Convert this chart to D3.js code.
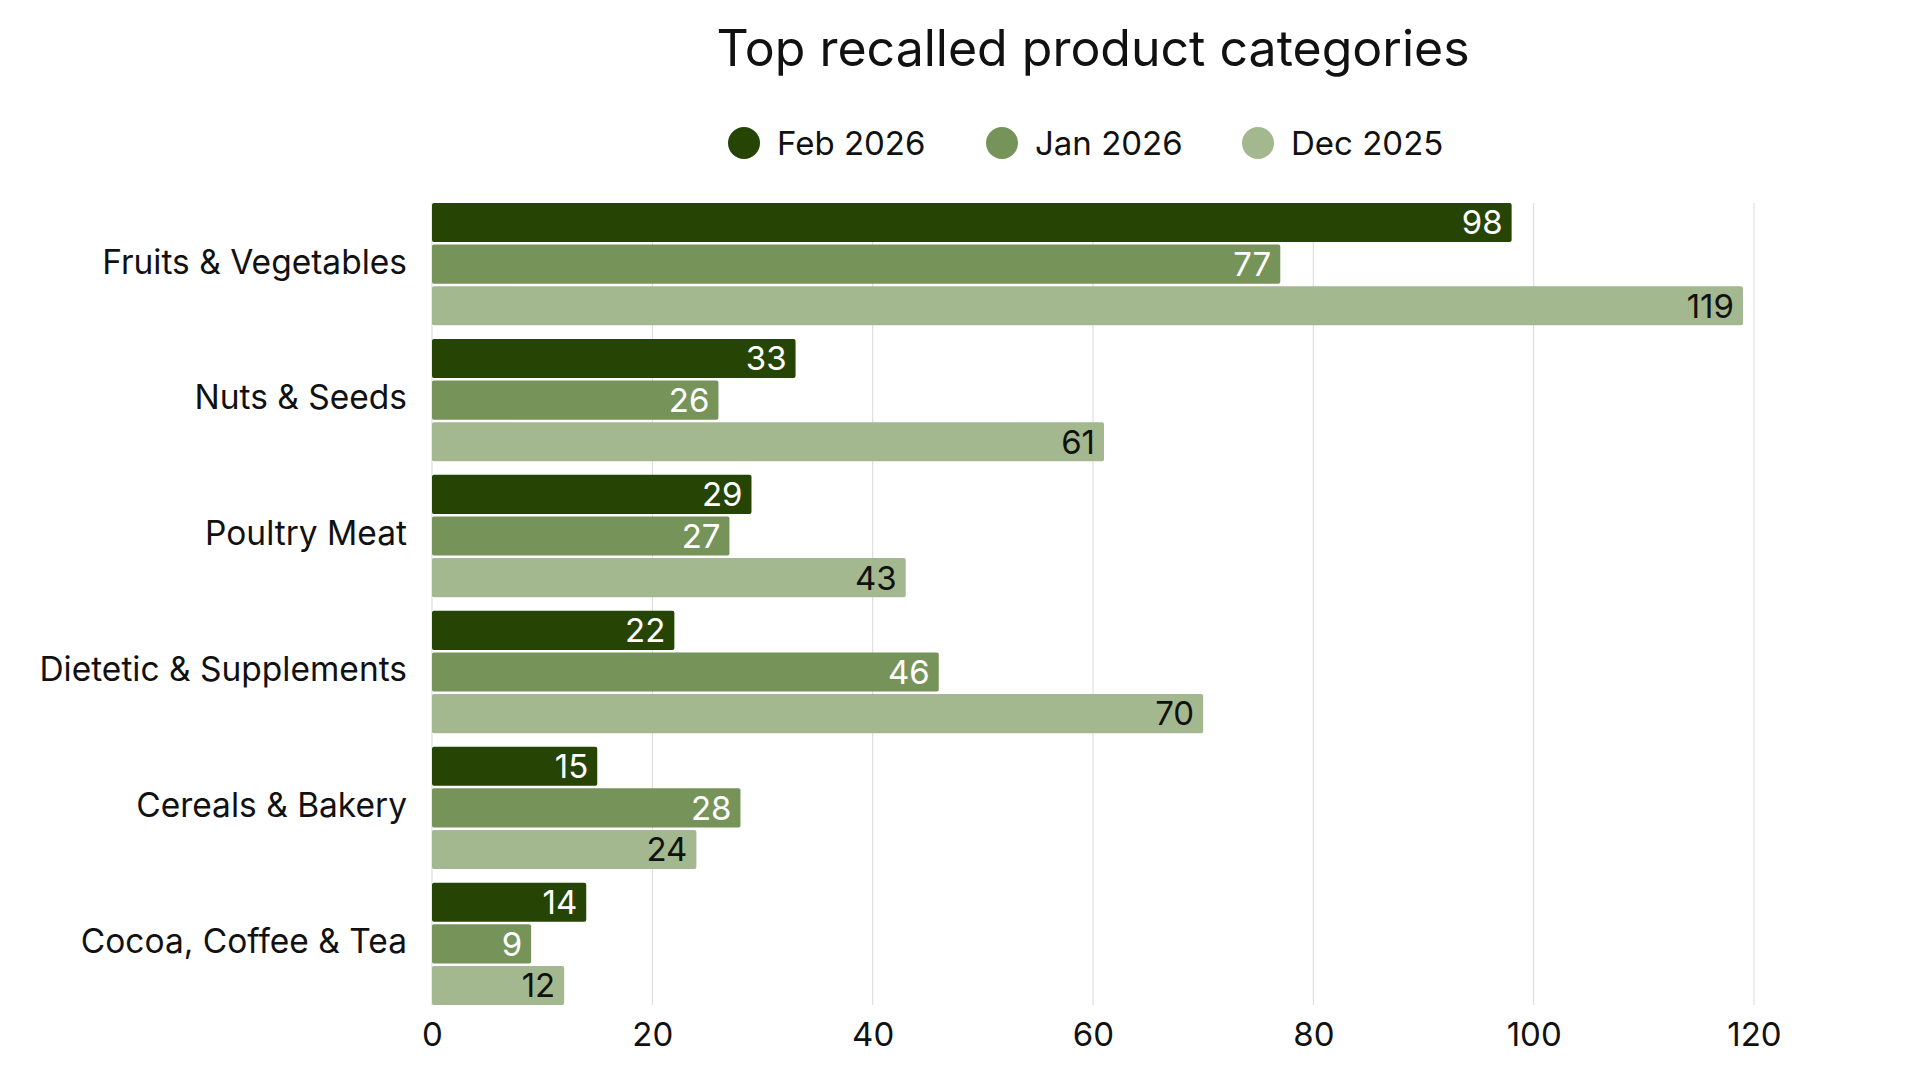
<!DOCTYPE html>
<html>
<head>
<meta charset="utf-8">
<script src="https://cdn.jsdelivr.net/npm/d3@7"></script>
<style>
  body { margin: 0; background: #fff; }
  svg { font-family: Inter, 'Noto Sans', sans-serif; }
</style>
</head>
<body>
<div id="chart"></div>
<script>
// categories and series, top to bottom
const categories = ['Fruits & Vegetables', 'Nuts & Seeds', 'Poultry Meat', 'Dietetic & Supplements', 'Cereals & Bakery', 'Cocoa, Coffee & Tea'];
const seriesNames = ['Feb 2026', 'Jan 2026', 'Dec 2025'];
const feb2026 = [98, 33, 29, 22, 15, 14];
const jan2026 = [77, 26, 27, 46, 28, 9];
const dec2025 = [119, 61, 43, 70, 24, 12];
const xTicks = [0, 20, 40, 60, 80, 100, 120];

const seriesValues = [feb2026, jan2026, dec2025];
const colors = ['#264404', '#76945a', '#a3b88f'];
const labelColors = ['#ffffff', '#ffffff', '#111111'];

const width = 1920, height = 1080;
const margin = { top: 203, right: 166, bottom: 75, left: 432 };

const svg = d3.select('#chart').append('svg')
  .attr('width', width)
  .attr('height', height);

const x = d3.scaleLinear()
  .domain([0, 120])
  .range([margin.left, width - margin.right]);

const y = d3.scaleBand()
  .domain(categories)
  .range([margin.top, height - margin.bottom])
  .paddingInner(0.1)
  .paddingOuter(0);

const ySub = d3.scaleBand()
  .domain(seriesNames)
  .range([0, y.bandwidth()])
  .paddingInner(0.06);

// title
svg.append('text')
  .attr('x', (x.range()[0] + x.range()[1]) / 2)
  .attr('y', 66)
  .attr('text-anchor', 'middle')
  .style('font-size', '50px')
  .attr('fill', '#111')
  .text('Top recalled product categories');

// legend
const legend = svg.append('g').attr('class', 'legend');
const legendX = [744, 1002, 1258];
const legendItems = legend.selectAll('.legend-item')
  .data(seriesNames)
  .join('g')
  .attr('class', 'legend-item')
  .attr('transform', (d, i) => `translate(${legendX[i]}, 143)`);

legendItems.append('circle')
  .attr('r', 16)
  .attr('fill', (d, i) => colors[i]);

legendItems.append('text')
  .attr('x', 33)
  .attr('dy', '0.35em')
  .style('font-size', '33px')
  .attr('fill', '#111')
  .text(d => d);

// gridlines
svg.append('g').attr('class', 'grid')
  .selectAll('line')
  .data(xTicks)
  .join('line')
  .attr('x1', d => x(d))
  .attr('x2', d => x(d))
  .attr('y1', y.range()[0])
  .attr('y2', y.range()[1])
  .attr('stroke', '#d9d9d9')
  .attr('stroke-width', 1);

// x axis
const axisX = svg.append('g')
  .attr('transform', `translate(0, ${y.range()[1]})`)
  .call(d3.axisBottom(x).tickValues(xTicks).tickSize(0).tickPadding(18));
axisX.select('.domain').remove();
axisX.selectAll('text')
  .style('font-size', '33px')
  .style('font-family', 'Inter, sans-serif')
  .attr('fill', '#111');

// category labels
svg.append('g').attr('class', 'y-labels')
  .selectAll('text')
  .data(categories)
  .join('text')
  .attr('x', margin.left - 25)
  .attr('y', d => y(d) + y.bandwidth() / 2)
  .attr('dy', '0.28em')
  .attr('text-anchor', 'end')
  .style('font-size', '33.5px')
  .attr('fill', '#111')
  .text(d => d);

// bars
const rows = [];
categories.forEach((c, ci) => {
  seriesNames.forEach((s, si) => {
    rows.push({ category: c, series: s, si, value: seriesValues[si][ci] });
  });
});

const groups = svg.append('g').attr('class', 'bars');

groups.selectAll('rect')
  .data(rows)
  .join('rect')
  .attr('x', x(0))
  .attr('y', d => y(d.category) + ySub(d.series))
  .attr('width', d => x(d.value) - x(0))
  .attr('height', ySub.bandwidth())
  .attr('rx', 2)
  .attr('fill', d => colors[d.si]);

groups.selectAll('.value-label')
  .data(rows)
  .join('text')
  .attr('class', 'value-label')
  .attr('x', d => x(d.value) - 9)
  .attr('y', d => y(d.category) + ySub(d.series) + ySub.bandwidth() / 2)
  .attr('dy', '0.36em')
  .attr('text-anchor', 'end')
  .style('font-size', '33px')
  .attr('fill', d => labelColors[d.si])
  .text(d => d.value);
</script>
</body>
</html>
